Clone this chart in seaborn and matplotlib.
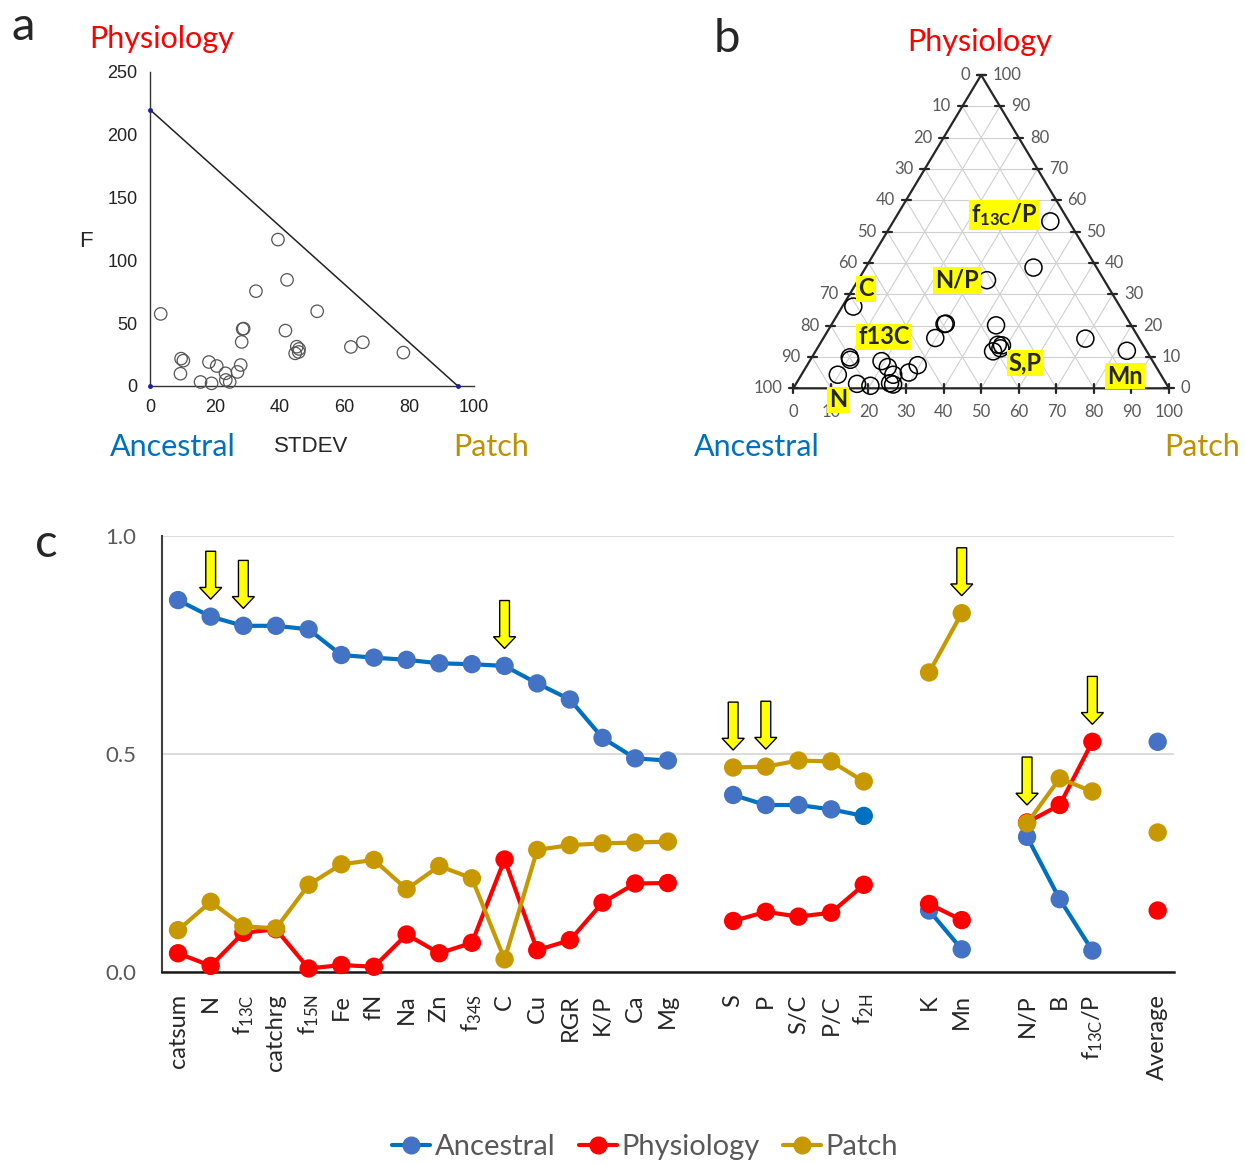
import numpy as np
import pandas as pd
import matplotlib
matplotlib.use("Agg")
import matplotlib.pyplot as plt
import seaborn as sns
from matplotlib.lines import Line2D

# ---------------- data ----------------
# panel a : F versus STDEV
stdev_a = [3.3, 9.6, 10.3, 9.4, 15.6, 19.0, 18.2, 20.6, 23.3, 23.4, 24.6, 27.0, 28.0, 28.3,
           28.6, 28.9, 32.7, 39.5, 42.3, 41.8, 44.8, 45.3, 46.0, 45.9, 51.6, 62.0, 65.7, 78.2]
f_a = [57.4, 21.8, 20.2, 9.8, 3.2, 2.1, 19.1, 15.9, 10.1, 4.8, 3.2, 11.2, 16.7, 35.1,
       45.4, 45.7, 75.5, 116.6, 84.5, 44.1, 26.0, 31.3, 29.5, 27.1, 59.5, 31.1, 34.8, 26.6]
limit_stdev = [0, 95]
limit_f = [220, 0]

# panel c : variance fractions
categories = ["catsum", "N", "f13C", "catchrg", "f15N", "Fe", "fN", "Na", "Zn", "f34S", "C",
              "Cu", "RGR", "K/P", "Ca", "Mg",
              "S", "P", "S/C", "P/C", "f2H",
              "K", "Mn",
              "N/P", "B", "f13C/P",
              "Average"]
tick_labels = ["catsum", "N", r"f$_{\mathregular{13C}}$", "catchrg", r"f$_{\mathregular{15N}}$", "Fe",
               "fN", "Na", "Zn", r"f$_{\mathregular{34S}}$", "C", "Cu", "RGR", "K/P", "Ca", "Mg",
               "S", "P", "S/C", "P/C", r"f$_{\mathregular{2H}}$",
               "K", "Mn",
               "N/P", "B", r"f$_{\mathregular{13C}}$/P",
               "Average"]
groups = [1] * 16 + [2] * 5 + [3] * 2 + [4] * 3 + [5]
ancestral = [0.853, 0.815, 0.794, 0.794, 0.786, 0.727, 0.721, 0.716, 0.708, 0.706, 0.702,
             0.662, 0.625, 0.537, 0.490, 0.485,
             0.406, 0.383, 0.383, 0.373, 0.358,
             0.141, 0.052,
             0.310, 0.167, 0.049,
             0.528]
physiology = [0.043, 0.014, 0.090, 0.098, 0.008, 0.016, 0.012, 0.086, 0.043, 0.067, 0.258,
              0.050, 0.073, 0.159, 0.203, 0.204,
              0.117, 0.138, 0.127, 0.136, 0.200,
              0.156, 0.119,
              0.343, 0.383, 0.528,
              0.141]
patch = [0.096, 0.161, 0.105, 0.100, 0.200, 0.247, 0.257, 0.190, 0.243, 0.215, 0.029,
         0.280, 0.291, 0.295, 0.297, 0.299,
         0.469, 0.471, 0.485, 0.483, 0.437,
         0.687, 0.823,
         0.341, 0.444, 0.414,
         0.320]
arrow_vars = ["N", "f13C", "C", "S", "P", "Mn", "N/P", "f13C/P"]

# panel b labels (ternary plot coordinates: x = patch + phys/2, y = phys)
tern_labels = [r"$\mathbf{f_{13C}/P}$", "N/P", "C", "f13C", "S,P", "Mn", "N"]
tern_label_x = [56.1, 43.6, 19.3, 24.1, 61.7, 88.3, 11.9]
tern_label_y = [55.3, 34.5, 31.7, 16.4, 8.1, 3.9, -3.7]

# ---------------- style ----------------
sns.set_style("white")
plt.rcParams["font.family"] = ["Lato", "DejaVu Sans"]
plt.rcParams["mathtext.fontset"] = "custom"
plt.rcParams["mathtext.rm"] = "Lato"
plt.rcParams["mathtext.it"] = "Lato:italic"
plt.rcParams["mathtext.bf"] = "Lato:bold"

BLUE_LINE = "#0070C0"
BLUE_MK = "#4472C4"
RED = "#FF0000"
GOLD = "#C89800"
GRAY_TXT = "#595959"

W, H = 1246, 1163
fig = plt.figure(figsize=(W / 100, H / 100), dpi=100)


def fx(px):
    return px / W


def fy(py):
    return 1 - py / H


# ---------------- panel a ----------------
axa = fig.add_axes([fx(150), fy(386), fx(474) - fx(150), fy(72) - fy(386)])
sns.scatterplot(x=stdev_a, y=f_a, ax=axa, s=80, marker="o", color="none",
                edgecolor="#555555", linewidth=0.9, clip_on=False, zorder=3)
for c in axa.collections:
    c.set_facecolor("none")
    c.set_edgecolor("#555555")
sns.lineplot(x=limit_stdev, y=limit_f, ax=axa, color="#222222", lw=1.1, zorder=2)
axa.plot(limit_stdev, limit_f, ls="none", marker="o", ms=2.5, color="#1F1F9F", clip_on=False, zorder=4)
axa.plot([0], [0], ls="none", marker="o", ms=2.5, color="#1F1F9F", clip_on=False, zorder=4)
axa.set_xlim(0, 100)
axa.set_ylim(0, 250)
axa.set_xticks([0, 20, 40, 60, 80, 100])
axa.set_yticks([0, 50, 100, 150, 200, 250])
for sp in ["top", "right"]:
    axa.spines[sp].set_visible(False)
for sp in ["left", "bottom"]:
    axa.spines[sp].set_color("#333333")
    axa.spines[sp].set_linewidth(1.0)
axa.tick_params(axis="both", direction="out", length=4, width=1, color="#333333",
                labelsize=13, labelcolor="#222222", pad=5)
for lab in axa.get_xticklabels() + axa.get_yticklabels():
    lab.set_family("Liberation Sans")
axa.set_xlabel("")
axa.set_ylabel("")
fig.text(fx(86), fy(242), "F", family="Liberation Sans", fontsize=16, ha="center", va="center")
fig.text(fx(311), fy(452), "STDEV", family="Liberation Sans", fontsize=16, ha="center", va="baseline")
fig.text(fx(162), fy(48), "Physiology", color=RED, fontsize=22, ha="center", va="baseline")
fig.text(fx(173), fy(456), "Ancestral", color=BLUE_LINE, fontsize=22, ha="center", va="baseline")
fig.text(fx(491), fy(456), "Patch", color="#BF9000", fontsize=22, ha="center", va="baseline")
fig.text(fx(23), fy(40), "a", fontsize=34, ha="center", va="baseline")

# ---------------- panel b (ternary) ----------------
axb = fig.add_axes([fx(793.3), fy(388.3), fx(1169) - fx(793.3), fy(75) - fy(388.3)])
axb.set_xlim(0, 100)
axb.set_ylim(0, 100)
axb.axis("off")
gc = "#D0D0D0"
for v in range(10, 100, 10):
    axb.plot([v / 2, 100 - v / 2], [v, v], color=gc, lw=0.8, zorder=1)
    axb.plot([v, v + (100 - v) / 2], [0, 100 - v], color=gc, lw=0.8, zorder=1)
    axb.plot([v, v / 2], [0, v], color=gc, lw=0.8, zorder=1)
axb.plot([0, 100, 50, 0], [0, 0, 100, 0], color="#262626", lw=1.6, zorder=2, clip_on=False)
for v in range(0, 101, 10):
    axb.plot([v / 2 - 1.2, v / 2 + 1.2], [v, v], color="#262626", lw=1.6, zorder=2, clip_on=False)
    axb.plot([100 - v / 2 - 1.2, 100 - v / 2 + 1.2], [v, v], color="#262626", lw=1.6, zorder=2, clip_on=False)
    axb.plot([v, v], [-1.5, 1.5], color="#262626", lw=1.6, zorder=2, clip_on=False)
    axb.text(v / 2 - 3, v, str(100 - v), ha="right", va="center", fontsize=12, color=GRAY_TXT)
    axb.text(100 - v / 2 + 3, v, str(v), ha="left", va="center", fontsize=12, color=GRAY_TXT)
    axb.text(v, -7.5, str(v), ha="center", va="center", fontsize=12, color=GRAY_TXT)

tot = np.array(ancestral[:-1]) + np.array(physiology[:-1]) + np.array(patch[:-1])
ph_pct = np.array(physiology[:-1]) / tot * 100
pa_pct = np.array(patch[:-1]) / tot * 100
tern = pd.DataFrame({"x": pa_pct + ph_pct / 2, "y": ph_pct})
sns.scatterplot(data=tern, x="x", y="y", ax=axb, s=150, marker="o", color="none",
                edgecolor="black", linewidth=1.1, clip_on=False, zorder=4)
for c in axb.collections:
    c.set_facecolor("none")
    c.set_edgecolor("black")
for lab, lx, ly in zip(tern_labels, tern_label_x, tern_label_y):
    axb.text(lx, ly, lab, ha="center", va="center", fontsize=17, fontweight="bold", zorder=6,
             bbox=dict(boxstyle="square,pad=0.08", fc="#FFFF00", ec="none"))
fig.text(fx(980), fy(51), "Physiology", color=RED, fontsize=22, ha="center", va="baseline")
fig.text(fx(757), fy(456), "Ancestral", color=BLUE_LINE, fontsize=22, ha="center", va="baseline")
fig.text(fx(1202), fy(456), "Patch", color="#BF9000", fontsize=22, ha="center", va="baseline")
fig.text(fx(727), fy(52), "b", fontsize=34, ha="center", va="baseline")

# ---------------- panel c ----------------
slots = [i + g - 1 for i, g in enumerate(groups)]
rows = []
series = [("Ancestral", ancestral), ("Physiology", physiology), ("Patch", patch)]
mk_colors = {"Ancestral": BLUE_MK, "Physiology": RED, "Patch": GOLD}
ln_colors = {"Ancestral": BLUE_LINE, "Physiology": RED, "Patch": GOLD}
for name, vals in series:
    for cat, s, g, v in zip(categories, slots, groups, vals):
        mc = mk_colors[name]
        if name == "Ancestral" and cat == "f2H":
            mc = BLUE_LINE
        rows.append(dict(cat=cat, slot=s, group=g, value=v, series=name, mcolor=mc))
df = pd.DataFrame(rows)

axc = fig.add_axes([fx(161.7), fy(972), fx(1174) - fx(161.7), fy(536) - fy(972)])
for k, (name, _) in enumerate(series):
    sub = df[df.series == name]
    sns.lineplot(data=sub, x="slot", y="value", units="group", estimator=None, sort=False,
                 color=ln_colors[name], lw=3, ax=axc, legend=False, zorder=3 + 2 * k)
    pal = {c: c for c in sub.mcolor.unique()}
    sns.scatterplot(data=sub, x="slot", y="value", hue="mcolor", palette=pal, s=175,
                    linewidth=0, ax=axc, legend=False, zorder=4 + 2 * k, clip_on=False)

for var in arrow_vars:
    i = categories.index(var)
    top = max(ancestral[i], physiology[i], patch[i]) + 0.04
    axc.arrow(slots[i], top + 0.11, 0, -0.11, width=0.3, head_width=0.68, head_length=0.027,
              length_includes_head=True, fc="#FFFF00", ec="black", lw=1.0, zorder=12, clip_on=False)

axc.set_xlim(-0.5, 30.5)
axc.set_ylim(0, 1.0)
axc.set_xticks(slots)
axc.set_xticklabels(tick_labels, rotation=90, fontsize=17)
axc.set_yticks([0, 0.5, 1.0])
axc.set_yticklabels(["0.0", "0.5", "1.0"], fontsize=16, color=GRAY_TXT)
axc.tick_params(axis="x", length=0, pad=16)
axc.tick_params(axis="y", length=0, pad=18)
axc.yaxis.grid(True, color="#D9D9D9", lw=1.3)
axc.xaxis.grid(False)
axc.set_axisbelow(True)
axc.set_xlabel("")
axc.set_ylabel("")
for sp in ["top", "right"]:
    axc.spines[sp].set_visible(False)
axc.spines["left"].set_color("#404040")
axc.spines["left"].set_linewidth(1.5)
axc.spines["bottom"].set_color("#1A1A1A")
axc.spines["bottom"].set_linewidth(1.8)
fig.text(fx(46), fy(557), "c", fontsize=34, ha="center", va="baseline")

handles = [Line2D([], [], color=ln_colors[n], lw=3, marker="o", markersize=12,
                  markerfacecolor=mk_colors[n], markeredgecolor=mk_colors[n]) for n, _ in series]
fig.legend(handles, [n for n, _ in series], loc="center", bbox_to_anchor=(fx(645), fy(1147)),
           ncol=3, frameon=False, fontsize=21, handlelength=1.3, handletextpad=0.15,
           columnspacing=0.8, labelcolor=GRAY_TXT)

fig.savefig("out.png", dpi=100)
